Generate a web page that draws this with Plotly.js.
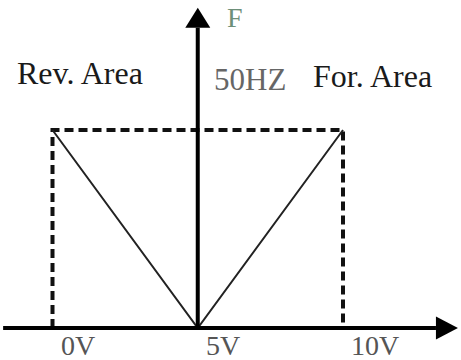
<!DOCTYPE html>
<html>
<head>
<meta charset="utf-8">
<script src="https://cdn.plot.ly/plotly-3.0.1.min.js"></script>
<style>html,body{margin:0;padding:0;background:#fff;}#chart{width:461px;height:360px;}</style>
</head>
<body>
<div id="chart"></div>
<script>
// ---- data ----
const volts = [0, 5, 10];          // input voltage (V)
const freq = [50, 0, 50];          // output frequency (Hz)
const rectVolts = [0, 0, 10, 10];  // dashed limit box
const rectFreq = [0, 50, 50, 0];
const tickVolts = [0, 5, 10];
const tickLabels = ['0V', '5V', '10V'];
const axisVoltExtent = [-1.7, 13.2]; // horizontal axis (V)
const axisFreqTop = 75.8;            // vertical axis top (Hz)
const centerVolt = 5;
const freqLabel = '50HZ';
const yLabel = 'F';
const revLabel = 'Rev. Area';
const forLabel = 'For. Area';

// ---- layout helpers (pixels) ----
const W = 461, H = 360, PB = 10, PH = H - PB;
const x0px = 52.5, xScale = 29.05;   // px per V
const y0px = 328, yScale = 3.96;     // px per Hz
const xRange = [-x0px / xScale, (W - x0px) / xScale];
const yRange = [(y0px - PH) / yScale, y0px / yScale];
const px = p => p / W;
const py = p => 1 - p / PH;
const serif = 'Liberation Serif, Times New Roman, serif';

const traces = [
  {
    x: rectVolts, y: rectFreq, type: 'scatter', mode: 'lines',
    line: {color: '#111', width: 4, dash: '9px,5px'}, hoverinfo: 'skip'
  },
  {
    x: volts, y: freq, type: 'scatter', mode: 'lines',
    line: {color: '#222', width: 2}, hoverinfo: 'skip'
  }
];

const shapes = [
  {type: 'line', xref: 'x', yref: 'y', x0: axisVoltExtent[0], x1: axisVoltExtent[1], y0: 0, y1: 0,
   line: {color: '#000', width: 4}},
  {type: 'line', xref: 'x', yref: 'y', x0: centerVolt, x1: centerVolt, y0: 0, y1: axisFreqTop,
   line: {color: '#000', width: 4}},
  {type: 'path', xref: 'x', yref: 'y', xsizemode: 'pixel', ysizemode: 'pixel',
   xanchor: axisVoltExtent[1], yanchor: 0,
   path: 'M0,-11.5 L22,0 L0,11.5 Z', fillcolor: '#000', line: {width: 0}},
  {type: 'path', xref: 'x', yref: 'y', xsizemode: 'pixel', ysizemode: 'pixel',
   xanchor: centerVolt, yanchor: axisFreqTop,
   path: 'M-12.5,0 L12.5,0 L0,20 Z', fillcolor: '#000', line: {width: 0}}
];

const ann = (text, cx, cy, size, color) => ({
  text, xref: 'paper', yref: 'paper', x: px(cx), y: py(cy),
  xanchor: 'center', yanchor: 'middle', showarrow: false,
  font: {family: serif, size, color}
});

const tickAnns = tickVolts.map((v, i) => ({
  text: tickLabels[i], xref: 'x', yref: 'y', x: v, y: 0,
  xanchor: 'left', yanchor: 'top', xshift: 6, yshift: 0, showarrow: false,
  font: {family: serif, size: 28, color: '#555'}
}));

const layout = {
  width: W, height: H,
  margin: {l: 0, r: 0, t: 0, b: PB, pad: 0},
  paper_bgcolor: '#fff', plot_bgcolor: '#fff',
  showlegend: false,
  xaxis: {range: xRange, visible: false, fixedrange: true},
  yaxis: {range: yRange, visible: false, fixedrange: true},
  shapes,
  annotations: [
    ann(revLabel, 80, 73, 32, '#1a1a1a'),
    ann(forLabel, 372, 75.5, 32, '#1a1a1a'),
    ann(freqLabel, 250, 80, 31, '#666'),
    {text: yLabel, xref: 'paper', yref: 'paper', x: px(235), y: 1,
     xanchor: 'center', yanchor: 'top', showarrow: false,
     font: {family: serif, size: 28, color: '#6d8f79'}}
  ].concat(tickAnns)
};

Plotly.newPlot('chart', traces, layout, {displayModeBar: false, staticPlot: true});
</script>
</body>
</html>
